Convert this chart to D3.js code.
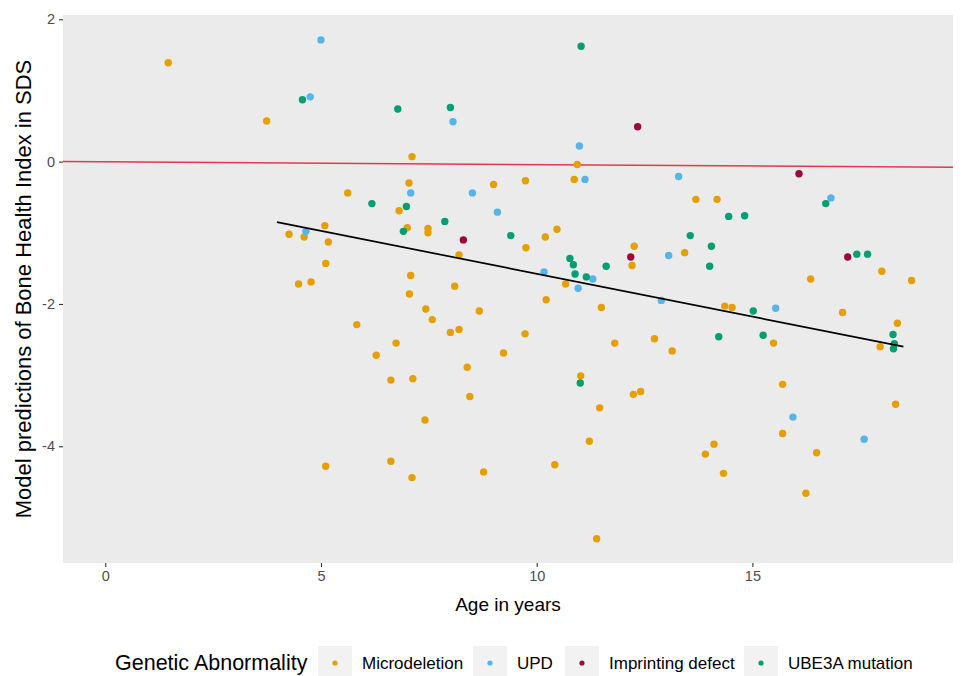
<!DOCTYPE html>
<html>
<head>
<meta charset="utf-8">
<script src="https://cdn.jsdelivr.net/npm/d3@7"></script>
<style>
  body { margin: 0; background: #fff; }
  svg { display: block; font-family: "Liberation Sans", Arial, sans-serif; }
</style>
</head>
<body>
<svg id="chart"></svg>
<script>
// Data: [age in years, BHI prediction in SDS]
const microdeletion = [
  [1.46, 1.39], [3.74, 0.57], [7.11, 0.07], [10.94, -0.04], [5.62, -0.44],
  [7.04, -0.30], [9.00, -0.32], [9.74, -0.27], [10.87, -0.25], [13.69, -0.53],
  [14.18, -0.53], [6.81, -0.69], [5.09, -0.90], [4.26, -1.02], [4.61, -1.06],
  [5.17, -1.13], [7.00, -0.93], [7.48, -0.94], [7.48, -1.00], [8.20, -1.31],
  [5.11, -1.43], [4.48, -1.72], [4.77, -1.69], [7.08, -1.60], [7.05, -1.86],
  [8.10, -1.75], [7.43, -2.07], [7.58, -2.22], [8.67, -2.10], [5.83, -2.29],
  [8.00, -2.40], [8.20, -2.36], [6.74, -2.55], [6.28, -2.72], [8.39, -2.89],
  [6.62, -3.07], [7.13, -3.05], [8.45, -3.30], [7.41, -3.63], [5.11, -4.28],
  [6.62, -4.21], [7.11, -4.44], [8.77, -4.36], [10.20, -1.06], [10.47, -0.95],
  [9.75, -1.21], [10.67, -1.72], [12.26, -1.19], [12.21, -1.46], [13.43, -1.28],
  [10.22, -1.94], [14.36, -2.03], [11.50, -2.05], [9.73, -2.42], [9.23, -2.69],
  [11.81, -2.55], [12.73, -2.49], [13.14, -2.66], [11.02, -3.01], [18.00, -1.54],
  [16.35, -1.65], [18.69, -1.67], [14.53, -2.05], [17.09, -2.12], [18.36, -2.27],
  [15.49, -2.55], [17.96, -2.60], [12.24, -3.27], [12.41, -3.23], [11.46, -3.46],
  [11.22, -3.93], [10.42, -4.26], [11.39, -5.30], [13.91, -4.11], [14.11, -3.97],
  [14.33, -4.38], [15.70, -3.13], [15.70, -3.82], [16.49, -4.09], [16.24, -4.66],
  [18.32, -3.41]
];

const upd = [
  [5.00, 1.71], [4.75, 0.91], [8.06, 0.56], [10.99, 0.22], [7.08, -0.44],
  [8.51, -0.44], [11.12, -0.25], [13.29, -0.21], [16.82, -0.51], [9.09, -0.71],
  [4.65, -0.98], [10.17, -1.55], [11.30, -1.65], [10.96, -1.78], [13.06, -1.32],
  [12.89, -1.95], [15.54, -2.06], [15.94, -3.59], [17.59, -3.90]
];

const imprinting = [
  [12.34, 0.49], [16.08, -0.17], [8.30, -1.10], [12.18, -1.34], [17.21, -1.34]
];

const ube3a = [
  [4.57, 0.87], [6.78, 0.74], [8.00, 0.76], [11.03, 1.62], [6.18, -0.59],
  [6.98, -0.63], [7.87, -0.84], [6.91, -0.98], [9.40, -1.04], [10.77, -1.36],
  [10.85, -1.45], [10.89, -1.58], [11.15, -1.62], [11.61, -1.47], [13.56, -1.04],
  [14.05, -1.19], [14.01, -1.47], [14.45, -0.77], [14.82, -0.76], [16.70, -0.59],
  [17.42, -1.30], [17.67, -1.30], [15.02, -2.10], [14.22, -2.46], [15.25, -2.44],
  [18.26, -2.43], [18.29, -2.56], [18.27, -2.63], [11.01, -3.11]
];

const groups = ["Microdeletion", "UPD", "Imprinting defect", "UBE3A mutation"];
const groupColors = ["#E69F00", "#56B4E9", "#9B0A3A", "#009E73"];

// reference line (0 SDS) and fitted trend
const refLine = [[-0.98, 0.0], [19.65, -0.08]];
const trendLine = [[3.98, -0.85], [18.5, -2.60]];

const xTicks = [0, 5, 10, 15];
const yTicks = [2, 0, -2, -4];

const width = 964;
const height = 676;
const margin = { top: 15, right: 11, bottom: 113, left: 63 };

const svg = d3.select("#chart")
  .attr("width", width)
  .attr("height", height);

const x = d3.scaleLinear()
  .domain([-0.98, 19.65])
  .range([margin.left, width - margin.right]);

const y = d3.scaleLinear()
  .domain([-5.64, 2.06])
  .range([height - margin.bottom, margin.top]);

// panel background
svg.append("rect")
  .attr("x", margin.left)
  .attr("y", margin.top)
  .attr("width", width - margin.left - margin.right)
  .attr("height", height - margin.top - margin.bottom)
  .attr("fill", "#EBEBEB");

// axes
const xAxis = svg.append("g")
  .attr("transform", `translate(0,${height - margin.bottom})`)
  .call(d3.axisBottom(x).tickValues(xTicks).tickSize(4).tickPadding(4));

const yAxis = svg.append("g")
  .attr("transform", `translate(${margin.left},0)`)
  .call(d3.axisLeft(y).tickValues(yTicks).tickSize(4).tickPadding(4)
    .tickFormat(d => d < 0 ? "-" + Math.abs(d) : d));

[xAxis, yAxis].forEach(g => {
  g.select(".domain").remove();
  g.selectAll(".tick line").attr("stroke", "#333").attr("stroke-width", 1.1);
  g.selectAll(".tick text")
    .attr("fill", "#4D4D4D")
    .style("font-size", "14.5px")
    .style("font-family", "'Liberation Sans', Arial, sans-serif");
});

const line = d3.line()
  .x(d => x(d[0]))
  .y(d => y(d[1]));

svg.append("path")
  .datum(refLine)
  .attr("d", line)
  .attr("fill", "none")
  .attr("stroke", "#E3394F")
  .attr("stroke-width", 1.5);

// points
const allSeries = [microdeletion, upd, imprinting, ube3a];
allSeries.forEach((series, i) => {
  svg.append("g")
    .selectAll("circle")
    .data(series)
    .join("circle")
    .attr("cx", d => x(d[0]))
    .attr("cy", d => y(d[1]))
    .attr("r", 3.7)
    .attr("fill", groupColors[i]);
});

svg.append("path")
  .datum(trendLine)
  .attr("d", line)
  .attr("fill", "none")
  .attr("stroke", "#000")
  .attr("stroke-width", 1.7);

// axis titles
svg.append("text")
  .attr("x", (margin.left + width - margin.right) / 2)
  .attr("y", 611)
  .attr("text-anchor", "middle")
  .style("font-size", "19px")
  .attr("fill", "#000")
  .text("Age in years");

svg.append("text")
  .attr("transform", `translate(31,${(margin.top + height - margin.bottom) / 2}) rotate(-90)`)
  .attr("text-anchor", "middle")
  .style("font-size", "22px")
  .attr("fill", "#000")
  .text("Model predictions of Bone Health Index in SDS");

// legend
const legendY = 663;
svg.append("text")
  .attr("x", 115)
  .attr("y", legendY + 7)
  .style("font-size", "21.5px")
  .attr("fill", "#000")
  .text("Genetic Abnormality");

const keyX = [318, 473, 565, 744];
groups.forEach((g, i) => {
  const k = svg.append("g").attr("transform", `translate(${keyX[i]},${legendY - 17})`);
  k.append("rect")
    .attr("width", 34)
    .attr("height", 34)
    .attr("fill", "#F2F2F2");
  k.append("circle")
    .attr("cx", 17)
    .attr("cy", 17)
    .attr("r", 2.6)
    .attr("fill", groupColors[i]);
  k.append("text")
    .attr("x", 44)
    .attr("y", 23)
    .style("font-size", "17px")
    .attr("fill", "#000")
    .text(g);
});
</script>
</body>
</html>
